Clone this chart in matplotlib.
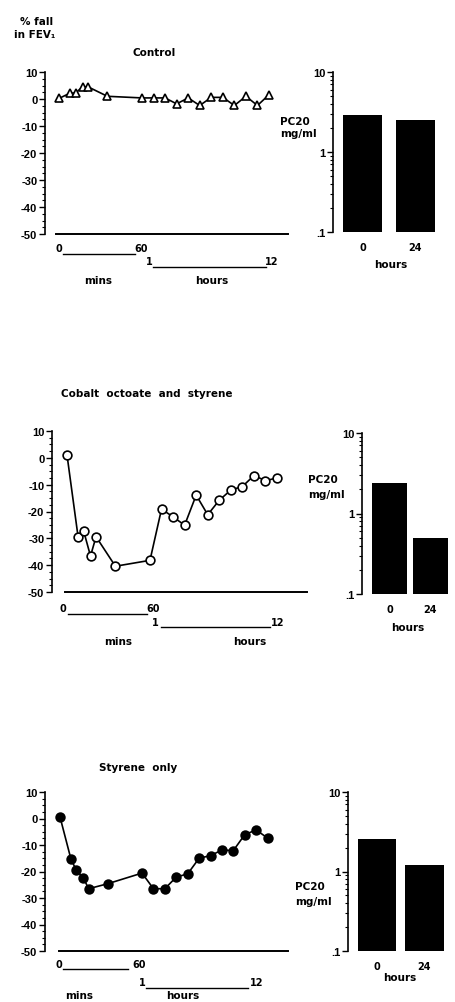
import matplotlib
matplotlib.use('Agg')
import matplotlib.pyplot as plt
from matplotlib.ticker import FixedLocator, FixedFormatter, NullFormatter
import numpy as np

# ---------------- data ----------------
minutes = [0, 8, 12, 17, 21, 35, 60]            # sampling times, minutes
hours = [2, 3, 4, 5, 6, 7, 8, 9, 10, 11, 12]     # sampling times, hours

control_fall = [0.2, 2.2, 2.2, 4.5, 4.5, 1.0, 0.4, 0.4, 0.4, -1.8, 0.4, -2.4,
                0.6, 0.6, -2.4, 1.0, -2.4, 1.6]
cobalt_fall = [1.1, -29.4, -27.2, -36.6, -29.4, -40.4, -38.2, -19.1, -22.0,
               -25.1, -13.9, -21.2, -15.8, -12.0, -10.7, -6.6, -8.5, -7.5]
styrene_fall = [0.6, -15.3, -19.6, -22.4, -26.5, -24.6, -20.6, -26.5, -26.5,
                -22.1, -20.9, -15.0, -14.0, -11.9, -12.1, -6.1, -4.3, -7.4]

pc20_labels = ['0', '24']
control_pc20 = [2.9, 2.5]
cobalt_pc20 = [2.37, 0.5]
styrene_pc20 = [2.6, 1.22]

fall_ticks = [10, 0, -10, -20, -30, -40, -50]
pc20_ticks = [0.1, 1, 10]
pc20_ticklabels = ['.1', '1', '10']

titles = ['Control', 'Cobalt  octoate  and  styrene', 'Styrene  only']

# ---------------- style ----------------
W, H = 455, 1003
TICKFONT = ['Liberation Sans', 'DejaVu Sans']
WORDFONT = ['DejaVu Sans']
plt.rcParams['font.family'] = TICKFONT
plt.rcParams['font.weight'] = 'bold'
plt.rcParams['font.size'] = 8
plt.rcParams['axes.unicode_minus'] = False

HR = 8.35  # minute-units per hour on the composite time axis


def time_pos(mins, hrs):
    return np.array(list(mins) + [60 + (h - 1) * HR for h in hrs])


fig = plt.figure(figsize=(W / 100, H / 100), dpi=100)


def rect(x0, y0, x1, y1):
    return [x0 / W, 1 - y1 / H, (x1 - x0) / W, (y1 - y0) / H]


def ftext(x, y, s, ha='center', va='center', size=7.5):
    fig.text(x / W, 1 - y / H, s, ha=ha, va=va, fontsize=size,
             fontweight='bold', family=WORDFONT)


def fline(x0, x1, y, lw=1.0):
    fig.add_artist(plt.Line2D([x0 / W, x1 / W], [1 - y / H, 1 - y / H],
                              color='black', lw=lw, transform=fig.transFigure))


def line_panel(spine, y_top, y_bot, u0, ppm, base_start, end, values, marker, mfc):
    ax = fig.add_axes(rect(spine, y_top, end, y_bot))
    ax.set_xlim((spine - u0) / ppm, (end - u0) / ppm)
    ax.set_ylim(-50, 10)
    x = time_pos(minutes, hours)
    ax.plot(x, values, color='black', lw=1.2, marker=marker, ms=6.3,
            mfc=mfc, mec='black', mew=1.2, clip_on=False, zorder=3)
    for s in ['top', 'right', 'bottom']:
        ax.spines[s].set_visible(False)
    ax.spines['left'].set_linewidth(1.2)
    ax.axhline(-50, xmin=(base_start - spine) / (end - spine), xmax=1,
               color='black', lw=1.4, clip_on=False)
    ax.set_xticks([])
    ax.yaxis.set_major_locator(FixedLocator(fall_ticks))
    ax.yaxis.set_major_formatter(FixedFormatter([str(t) for t in fall_ticks]))
    ax.yaxis.set_minor_locator(FixedLocator(np.arange(-50, 10, 2.5)))
    ax.tick_params(axis='y', which='major', length=4, width=1.0, pad=1.5, labelsize=8)
    ax.tick_params(axis='y', which='minor', length=2, width=0.8)
    ax.patch.set_visible(False)
    return ax


def bar_panel(spine, y_top, y_bot, c1, c2, wpx, right, values):
    s = c2 - c1
    ax = fig.add_axes(rect(spine, y_top, right, y_bot))
    ax.set_yscale('log')
    ax.set_xlim((spine - c1) / s, (right - c1) / s)
    ax.set_ylim(0.1, 10)
    ax.bar(range(len(values)), values, width=wpx / s, color='black')
    for sp in ['top', 'right', 'bottom']:
        ax.spines[sp].set_visible(False)
    ax.spines['left'].set_linewidth(1.2)
    ax.yaxis.set_major_locator(FixedLocator(pc20_ticks))
    ax.yaxis.set_major_formatter(FixedFormatter(pc20_ticklabels))
    minors = [m * d for d in (0.1, 1) for m in range(2, 10)]
    ax.yaxis.set_minor_locator(FixedLocator(minors))
    ax.yaxis.set_minor_formatter(NullFormatter())
    ax.tick_params(axis='y', which='major', length=4, width=1.0, pad=1.5, labelsize=8)
    ax.tick_params(axis='y', which='minor', length=2, width=0.8)
    ax.set_xticks(range(len(values)))
    ax.set_xticklabels(pc20_labels, family=WORDFONT, fontsize=7, fontweight='bold')
    ax.tick_params(axis='x', length=0, pad=7)
    ax.patch.set_visible(False)
    return ax


# ---------------- top: Control ----------------
ftext(20, 22, '% fall', ha='left')
ftext(14, 35, 'in FEV\u2081', ha='left')
ftext(154, 53, titles[0])
line_panel(45, 73, 235, 59, 1.383, 56, 288, control_fall, '^', 'white')
ftext(59, 249, '0', size=7); fline(63, 135, 255); ftext(141, 249, '60', size=7)
ftext(149, 262, '1', size=7); fline(153, 266, 268); ftext(272, 262, '12', size=7)
ftext(98, 281, 'mins'); ftext(212, 281, 'hours')
bar_panel(333, 73, 233, 362.5, 415.5, 39, 440, control_pc20)
ftext(280, 122, 'PC20', ha='left'); ftext(280, 134, 'mg/ml', ha='left')
ftext(391, 265, 'hours')

# ---------------- middle: Cobalt octoate and styrene ----------------
ftext(147, 394, titles[1])
line_panel(52, 432, 593, 67, 1.383, 65, 307, cobalt_fall, 'o', 'white')
ftext(63, 609, '0', size=7); fline(68, 147, 615); ftext(153, 609, '60', size=7)
ftext(155, 623, '1', size=7); fline(161, 270, 628); ftext(278, 623, '12', size=7)
ftext(118, 642, 'mins'); ftext(250, 642, 'hours')
bar_panel(362, 434, 595, 389.5, 430.5, 35, 452, cobalt_pc20)
ftext(308, 480, 'PC20', ha='left'); ftext(308, 495, 'mg/ml', ha='left')
ftext(408, 628, 'hours')

# ---------------- bottom: Styrene only ----------------
ftext(138, 768, titles[2])
line_panel(45, 793, 952, 60, 1.367, 59, 288, styrene_fall, 'o', 'black')
ftext(59, 965, '0', size=7); fline(63, 128, 970); ftext(139, 965, '60', size=7)
ftext(142, 983, '1', size=7); fline(146, 248, 989); ftext(257, 983, '12', size=7)
ftext(79, 996, 'mins'); ftext(183, 996, 'hours')
bar_panel(348, 793, 952, 377, 424.5, 38.5, 446, styrene_pc20)
ftext(295, 887, 'PC20', ha='left'); ftext(295, 902, 'mg/ml', ha='left')
ftext(400, 978, 'hours')

fig.savefig('out.png', dpi=100)
